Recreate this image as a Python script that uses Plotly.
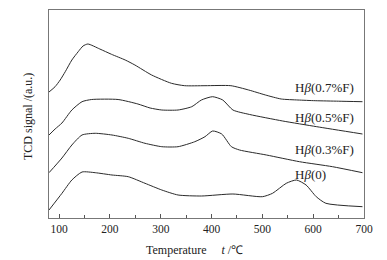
import plotly.graph_objects as go

# Temperature (°C) and TCD signal (a.u.)
t_07 = [80, 92, 102, 112, 125, 137.5, 147, 156.5, 180, 203, 230, 249, 282, 321, 347, 387, 438, 473, 506, 537, 570, 604, 650, 697]
s_07 = [126, 131.3, 138, 146.3, 158, 166.3, 172, 174, 169, 163.7, 158, 153, 143, 134.7, 132.3, 132.3, 132.3, 128, 123, 119, 118, 117.3, 116.8, 116.3]

t_05 = [80, 92, 105.5, 125, 145, 164, 216, 255, 279, 302, 334, 361, 380, 402, 422, 442, 475, 540, 607, 697]
s_05 = [83, 89, 95, 108, 116.3, 118.5, 118.5, 114, 110, 108, 108, 111.3, 118, 121.3, 118, 108, 103.5, 97, 91.3, 84]

t_03 = [80, 105.5, 125, 145, 171, 204, 236, 269, 302, 334, 367, 387, 402, 420, 439, 455, 508, 573, 638, 697]
s_03 = [45.3, 60, 73, 83, 84.7, 83, 79.7, 74.7, 71.3, 71.3, 76.3, 81.3, 87, 84, 71.3, 68, 63, 56.3, 51.3, 45.3]

t_00 = [80, 105.5, 125, 145, 171, 204, 236, 269, 302, 334, 380, 442, 500, 520, 547, 567, 586, 606, 625, 697]
s_00 = [8, 24.7, 38, 46, 45.3, 43, 41.3, 34.7, 28, 23, 22, 24, 21.3, 24.7, 34.7, 38, 33, 21.3, 14.7, 11.3]

labels = ["H<i>β</i>(0.7%F)", "H<i>β</i>(0.5%F)", "H<i>β</i>(0.3%F)", "H<i>β</i>(0)"]
label_y = [131, 101, 69, 44]
label_x = 561

tick_vals = [100, 200, 300, 400, 500, 600, 700]

FONT = "Liberation Serif, Times New Roman, serif"
LINE = "#2a2a2a"

fig = go.Figure()
for t, s, name in [(t_07, s_07, labels[0]), (t_05, s_05, labels[1]),
                   (t_03, s_03, labels[2]), (t_00, s_00, labels[3])]:
    fig.add_trace(go.Scatter(x=t, y=s, mode="lines", name=name,
                             line=dict(color=LINE, width=1, shape="spline", smoothing=0.6),
                             showlegend=False, hoverinfo="skip"))

for txt, yy in zip(labels, label_y):
    fig.add_annotation(x=label_x, y=yy, text=txt, showarrow=False,
                       xanchor="left", yanchor="middle",
                       font=dict(family=FONT, size=13, color="#222"))

# axis titles
fig.add_annotation(x=0.5, y=0, xref="paper", yref="paper", xshift=-12, yshift=-32,
                   text="Temperature\u00a0\u00a0\u00a0\u00a0\u00a0<i>t</i> /℃", showarrow=False,
                   xanchor="center", yanchor="middle", font=dict(family=FONT, size=12, color="#222"))
fig.add_annotation(x=0, y=0.5, xref="paper", yref="paper", xshift=-21, yshift=-3,
                   text="TCD signal /(a.u.)", showarrow=False, textangle=-90,
                   xanchor="center", yanchor="middle", font=dict(family=FONT, size=12, color="#222"))

fig.update_layout(
    width=387, height=260,
    margin=dict(l=49, r=23, t=10, b=42, autoexpand=False),
    paper_bgcolor="white", plot_bgcolor="white",
    font=dict(family=FONT, size=11, color="#222"),
    xaxis=dict(range=[80, 700], tickvals=tick_vals, ticks="inside", ticklen=4,
               tickcolor="#555", showline=True, linecolor="#777", linewidth=1,
               mirror=True, showgrid=False, zeroline=False, automargin=False,
               minor=dict(dtick=50, tick0=0, ticks="inside", ticklen=3, tickcolor="#555"),
               tickfont=dict(family=FONT, size=11.5)),
    yaxis=dict(range=[0, 208], showticklabels=False, ticks="", showline=True,
               linecolor="#777", linewidth=1, mirror=True, showgrid=False, zeroline=False,
               automargin=False),
)

fig.write_html("out.html", config={"displayModeBar": False},
               post_script="document.body.style.margin='0';document.body.style.padding='0';")
